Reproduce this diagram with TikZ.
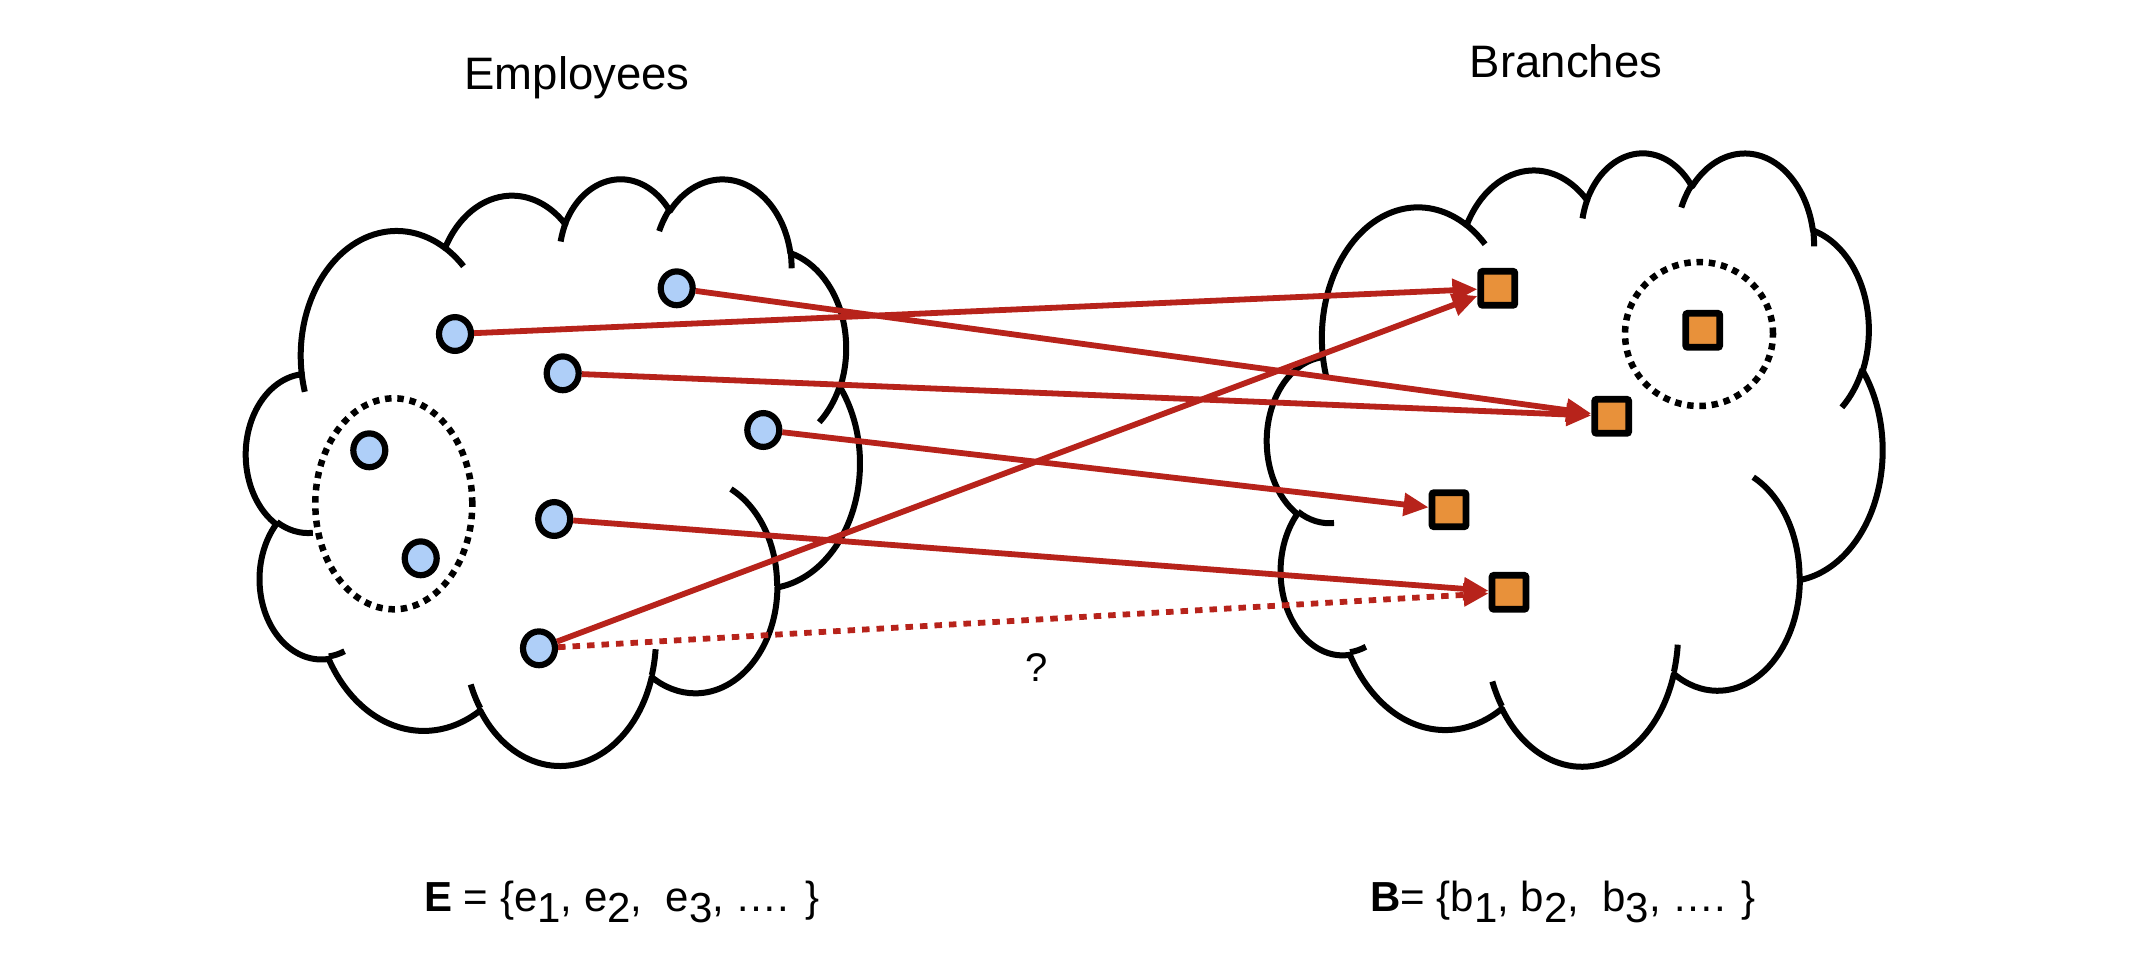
\documentclass[tikz,border=0pt]{standalone}
\usepackage{fontspec}
\setmainfont{Liberation Sans}
\usetikzlibrary{arrows.meta,shapes.geometric}
\definecolor{linkred}{RGB}{183,35,27}
\definecolor{empblue}{RGB}{175,207,248}
\definecolor{brorange}{RGB}{232,145,58}
\newcommand\lowd[1]{\raisebox{-0.27em}{#1}}
\tikzset{
  cloudline/.style={draw=black, line width=6pt, line join=round},
  cloud/.pic={
    \draw[cloudline, fill=white] (39.00,143.70)
      arc[start angle=172.253, end angle=300.363, x radius=67.53, y radius=91.90]
      arc[start angle=-152.046, end angle=-45.458, x radius=53.33, y radius=72.67]
      arc[start angle=-153.495, end angle=-37.338, x radius=43.65, y radius=59.45]
      arc[start angle=-139.717, end angle=-10.211, x radius=48.57, y radius=65.95]
      arc[start angle=-74.769, end angle=23.212, x radius=53.33, y radius=72.73]
      arc[start angle=-37.516, end angle=81.863, x radius=67.75, y radius=92.20]
      arc[start angle=0.460, end angle=121.972, x radius=57.85, y radius=78.67]
      arc[start angle=16.843, end angle=146.214, x radius=67.52, y radius=92.15]
      arc[start angle=58.985, end angle=150.200, x radius=77.20, y radius=105.43]
      arc[start angle=83.306, end angle=223.108, x radius=43.60, y radius=59.18]
      arc[start angle=120.357, end angle=264.112, x radius=43.45, y radius=59.45]
      -- cycle;
    \draw[cloudline]
      (46.93,261.77) arc[start angle=85.546, end angle=120.357, x radius=43.45, y radius=59.45]
      (69.28,348.99) arc[start angle=68.235, end angle=83.306, x radius=43.60, y radius=59.18]
      (164.78,390.90) arc[start angle=146.213, end angle=158.472, x radius=67.52, y radius=92.15]
      (288.27,347.51) arc[start angle=4.738, end angle=16.843, x radius=67.52, y radius=92.15]
      (341.29,229.54) arc[start angle=-64.027, end angle=0.460, x radius=57.85, y radius=78.67]
      (417.98,153.54) arc[start angle=23.212, end angle=49.642, x radius=53.33, y radius=72.73]
      (383.24,54.26) arc[start angle=-10.211, end angle=0.821, x radius=48.57, y radius=65.95]
      (290.78,39.52) arc[start angle=-156.305, end angle=-139.717, x radius=48.57, y radius=65.95]
      (221.41,47.20) arc[start angle=-167.726, end angle=-153.495, x radius=43.65, y radius=59.45]
      (140.00,51.92) arc[start angle=-59.637, end angle=-45.738, x radius=67.53, y radius=91.90]
      (41.27,157.89) arc[start angle=163.194, end angle=172.253, x radius=67.53, y radius=91.90];
  },
  empnode/.style={ellipse, draw=black, line width=6.2pt, fill=empblue,
    minimum width=32pt, minimum height=33.8pt, inner sep=0pt},
  brnode/.style={rectangle, draw=black, line width=6.8pt, fill=brorange,
    minimum width=34pt, minimum height=34pt, inner sep=0pt, rounded corners=2pt},
  grpline/.style={ellipse, draw=black, line width=6.5pt, dash pattern=on 6.5pt off 5.8pt, inner sep=0pt},
  link/.style={draw=linkred, line width=5.8pt, -{Triangle[length=25pt,width=22pt]}},
  maybelink/.style={link, dash pattern=on 7.5pt off 7pt},
  titletext/.style={font=\fontsize{45.5}{50}\selectfont, anchor=base, inner sep=0pt},
  settext/.style={font=\fontsize{42}{48}\selectfont, anchor=base west, inner sep=0pt},
}
\begin{document}
\begin{tikzpicture}[x=1pt, y=1pt, yscale=-1]
\useasboundingbox (0,0) rectangle (2132,964);
\fill[white] (0,0) rectangle (2132,964);

% clouds (pics keep only the shift of the outer transformation)
\pic[xscale=1.4202, yscale=-1.3576] at (246.2,177.44) {cloud};
\pic[xscale=1.4241, yscale=-1.4194] at (1267.2,151.4) {cloud};

% dotted groups
\node[grpline, minimum width=157pt, minimum height=211pt] (grpE) at (393.8,503.8) {};
\node[grpline, minimum width=148pt, minimum height=144pt] (grpB) at (1699,334) {};

% employees
\node[empnode] (c1) at (676.7,288.3) {};
\node[empnode] (c2) at (455,334) {};
\node[empnode] (c3) at (562.7,373.3) {};
\node[empnode] (c4) at (763.3,430) {};
\node[empnode] (c5) at (369.3,450.3) {};
\node[empnode] (c6) at (420.7,558.3) {};
\node[empnode] (c7) at (554.2,519) {};
\node[empnode] (c8) at (539,648.3) {};

% branches
\node[brnode] (s1) at (1497.8,288.3) {};
\node[brnode] (s2) at (1702.7,330.3) {};
\node[brnode] (s3) at (1611.7,416.3) {};
\node[brnode] (s4) at (1449,509.7) {};
\node[brnode] (s5) at (1509,592.3) {};

% links
\draw[link] (c1) -- (s3);
\draw[link] (c2) -- (s1);
\draw[link] (c3) -- (s3);
\draw[link] (c4) -- (s4);
\draw[link] (c7) -- (s5);
\draw[link] (c8) -- (s1);
\draw[maybelink] (c8) -- (s5);
\node[font=\fontsize{40}{44}\selectfont, inner sep=0pt] (q) at (1036.5,668) {?};

% texts
\node[titletext] (tE) at (577,89.5) {Employees};
\node[titletext] (tB) at (1566,77) {Branches};
\node[settext] (sE) at (424,911) {\textbf{E} = \{e\lowd{1}, e\lowd{2},~ e\lowd{3}, …. \}};
\node[settext] (sB) at (1370,911) {\textbf{B}= \{b\lowd{1}, b\lowd{2},~ b\lowd{3}, …. \}};
\end{tikzpicture}
\end{document}
